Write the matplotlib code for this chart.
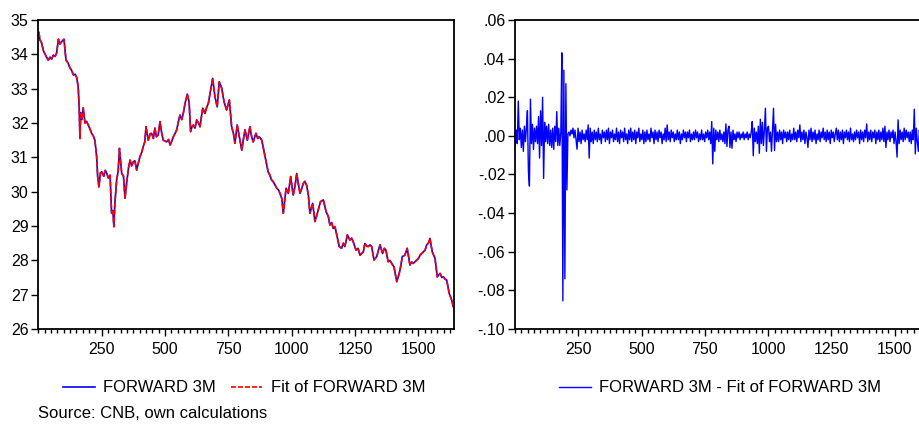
import numpy as np
import matplotlib
matplotlib.use("Agg")
import matplotlib.pyplot as plt
from matplotlib.ticker import MultipleLocator, FuncFormatter

plt.rcParams['font.family'] = ['Liberation Sans', 'DejaVu Sans']

# FORWARD 3M
fwd_obs = [2, 6, 12, 20, 30, 39, 46, 52, 59, 66, 72, 79, 85, 92, 101, 109, 117, 125,
           132, 138, 145, 151, 157, 161, 164, 167, 172, 177, 184, 190, 197, 204, 210,
           217, 223, 230, 234, 239, 245, 250, 258, 264, 270, 276, 283, 289, 294, 298,
           302, 309, 315, 320, 329, 336, 342, 349, 356, 362, 368, 375, 381, 388, 395,
           401, 408, 414, 420, 425, 434, 441, 447, 454, 460, 466, 473, 480, 487, 493,
           507, 514, 520, 527, 533, 540, 546, 553, 559, 566, 572, 579, 588, 595, 601,
           607, 612, 618, 625, 632, 638, 643, 649, 658, 664, 671, 680, 688, 697, 706,
           714, 724, 733, 743, 754, 763, 770, 776, 785, 796, 803, 810, 816, 825, 835,
           842, 848, 859, 866, 872, 882, 895, 907, 914, 920, 927, 934, 941, 948, 954,
           961, 967, 972, 978, 987, 996, 1006, 1013, 1020, 1027, 1033, 1040, 1046, 1052,
           1059, 1066, 1072, 1083, 1092, 1099, 1105, 1114, 1125, 1136, 1145, 1151, 1158,
           1164, 1171, 1178, 1188, 1197, 1204, 1210, 1220, 1230, 1237, 1243, 1254, 1262,
           1270, 1283, 1289, 1296, 1302, 1309, 1316, 1325, 1336, 1343, 1349, 1359, 1366,
           1372, 1381, 1388, 1395, 1404, 1415, 1422, 1428, 1437, 1447, 1456, 1462, 1467,
           1474, 1480, 1494, 1500, 1507, 1520, 1527, 1533, 1540, 1546, 1555, 1566, 1575,
           1586, 1593, 1599, 1606, 1612, 1622, 1632, 1638]
fwd_vals = [34.64, 34.42, 34.35, 34.10, 33.95, 33.83, 33.92, 33.86, 33.98, 33.94, 34.04,
            34.44, 34.30, 34.37, 34.44, 33.83, 33.75, 33.60, 33.52, 33.40, 33.42, 33.33,
            33.06, 32.47, 31.55, 32.30, 32.10, 32.44, 32.00, 32.05, 31.94, 31.82, 31.70,
            31.62, 31.50, 31.02, 30.44, 30.14, 30.55, 30.58, 30.45, 30.62, 30.53, 30.40,
            30.48, 29.37, 29.45, 28.98, 29.66, 30.34, 30.60, 31.26, 30.53, 30.45, 29.81,
            30.29, 30.70, 30.92, 30.75, 30.87, 30.90, 30.63, 30.85, 31.02, 31.15, 31.31,
            31.45, 31.89, 31.50, 31.68, 31.70, 31.55, 31.85, 31.60, 31.65, 32.04, 31.70,
            31.50, 31.45, 31.52, 31.36, 31.48, 31.60, 31.70, 31.80, 32.05, 32.23, 32.10,
            32.28, 32.57, 32.84, 32.62, 31.75, 31.90, 31.94, 31.85, 32.09, 32.00, 31.89,
            32.15, 32.43, 32.28, 32.45, 32.57, 32.96, 33.30, 32.77, 32.47, 33.20, 33.01,
            32.62, 32.38, 32.67, 31.89, 31.70, 31.41, 31.94, 31.50, 31.21, 31.55, 31.80,
            31.50, 31.89, 31.60, 31.45, 31.70, 31.55, 31.60, 31.50, 31.02, 30.58, 30.48,
            30.35, 30.29, 30.20, 30.10, 30.05, 29.95, 29.80, 29.37, 29.70, 30.10, 29.95,
            30.44, 29.90, 30.15, 30.53, 30.20, 29.95, 30.10, 30.24, 30.30, 30.19, 29.90,
            29.37, 29.66, 29.13, 29.30, 29.47, 29.71, 29.76, 29.42, 29.27, 29.03, 29.10,
            28.93, 28.98, 28.74, 28.40, 28.35, 28.50, 28.40, 28.74, 28.59, 28.65, 28.54,
            28.30, 28.35, 28.15, 28.25, 28.49, 28.42, 28.40, 28.45, 28.40, 28.01, 28.11,
            28.30, 28.45, 28.20, 28.35, 28.30, 27.96, 28.00, 27.91, 27.81, 27.38, 27.55,
            27.72, 28.11, 28.15, 28.35, 28.10, 27.86, 27.95, 27.91, 28.01, 28.05, 28.15,
            28.25, 28.30, 28.45, 28.50, 28.64, 28.25, 28.06, 27.52, 27.62, 27.50, 27.52,
            27.45, 27.43, 27.04, 26.84, 26.65]

resid_obs = np.arange(1, 1642, 4)
resid_vals = [
    -0.005, 0.003, -0.004, 0.018, -0.002, 0.004, -0.006, 0.003, -0.008, 0.005,
    -0.003, 0.004, 0.013, -0.0185, -0.026, 0.019, -0.004, 0.006, -0.007, 0.004,
    -0.003, 0.005, -0.004, 0.010, -0.0115, 0.013, -0.005, 0.020, -0.022, 0.007,
    -0.003, 0.005, -0.004, 0.006, -0.005, 0.003, -0.006, 0.004, -0.007, 0.005,
    -0.003, 0.0126, -0.005, 0.004, -0.005, 0.002, 0.043, -0.0854, 0.034, -0.074,
    0.027, -0.028, 0.001, 0.002, 0.000, 0.003, 0.001, 0.004, -0.001, 0.003,
    -0.002, -0.0069, 0.004, -0.003, 0.002, -0.004, 0.003, -0.002, 0.001, -0.003,
    0.003, -0.002, 0.0057, -0.0115, 0.004, -0.003, 0.002, -0.004, 0.003, -0.002,
    0.002, -0.003, 0.004, -0.002, 0.001, -0.004, 0.003, -0.001, 0.002, -0.003,
    0.003, -0.002, 0.004, -0.004, 0.002, -0.001, 0.003, -0.003, 0.001, -0.002,
    0.004, -0.003, 0.002, -0.004, 0.003, -0.001, 0.002, -0.003, 0.004, -0.002,
    0.001, -0.004, 0.003, -0.002, 0.004, -0.003, 0.002, -0.002, 0.003, -0.004,
    0.002, -0.001, 0.004, -0.003, 0.001, -0.002, 0.003, -0.004, 0.002, -0.003,
    0.003, -0.002, 0.001, -0.003, 0.004, -0.001, 0.002, -0.004, 0.003, -0.002,
    0.002, -0.003, 0.003, -0.001, 0.002, -0.004, 0.001, -0.002, 0.004, -0.003,
    0.0057, -0.002, 0.002, -0.003, 0.003, -0.001, 0.002, -0.003, 0.001, -0.002,
    0.003, -0.002, 0.002, -0.004, 0.001, -0.002, 0.003, -0.001, 0.002, -0.003,
    0.002, -0.001, 0.003, -0.003, 0.001, -0.002, 0.002, -0.002, 0.003, -0.001,
    0.002, -0.003, 0.001, -0.002, 0.003, -0.002, 0.001, -0.003, 0.002, -0.001,
    0.003, -0.002, 0.002, -0.004, 0.0074, -0.0145, 0.004, -0.008, 0.003, -0.002,
    0.002, -0.003, 0.003, -0.002, 0.001, -0.003, 0.002, -0.004, 0.0062, -0.0055,
    0.003, 0.005, -0.006, 0.002, -0.0064, 0.003, -0.002, 0.001, -0.003, 0.002,
    -0.001, 0.002, -0.002, 0.001, -0.001, 0.002, -0.002, 0.001, -0.001, 0.002,
    -0.002, 0.001, -0.001, 0.002, 0.0074, -0.0103, 0.004, -0.003, 0.002, -0.004,
    0.005, -0.009, 0.0086, -0.004, 0.007, -0.005, 0.003, 0.0143, -0.008, 0.004,
    0.005, -0.003, 0.002, -0.008, 0.003, 0.0143, -0.0076, 0.006, -0.003, 0.002,
    -0.003, 0.003, -0.002, 0.002, -0.004, 0.003, -0.001, 0.002, -0.003, 0.002,
    -0.002, 0.003, -0.003, 0.001, -0.002, 0.004, -0.002, 0.002, -0.003, 0.003,
    -0.001, 0.0057, -0.003, 0.002, -0.002, 0.003, -0.004, 0.002, -0.001, -0.006,
    0.003, -0.002, 0.004, -0.003, 0.002, -0.002, 0.003, -0.004, 0.001, -0.002,
    0.003, -0.003, 0.002, -0.001, 0.004, -0.002, 0.002, -0.003, 0.003, -0.002,
    0.002, -0.004, 0.003, -0.001, 0.002, -0.003, 0.001, 0.004, -0.002, 0.003,
    -0.003, 0.002, -0.002, 0.003, -0.004, 0.002, -0.001, 0.003, -0.002, 0.002,
    -0.003, 0.004, -0.002, 0.001, -0.003, 0.002, -0.002, 0.003, -0.001, 0.002,
    -0.004, 0.003, -0.002, 0.002, -0.003, 0.003, -0.001, 0.0062, -0.003, 0.002,
    -0.002, 0.003, -0.003, 0.002, -0.001, 0.003, -0.004, 0.002, -0.002, 0.003,
    -0.003, 0.002, -0.002, 0.004, -0.003, 0.005, -0.006, 0.002, -0.002, 0.003,
    -0.003, 0.002, -0.001, 0.003, -0.004, 0.002, -0.003, -0.011, 0.0083, -0.004,
    0.003, -0.002, 0.002, -0.003, 0.004, -0.002, 0.003, -0.001, 0.002, -0.003,
    0.002, -0.004, 0.003, -0.002, 0.0138, -0.0093, 0.004, -0.003, -0.008, 0.003,
    -0.002, 0.003, -0.003, 0.002, -0.004, 0.003, -0.002, 0.004, -0.003, 0.002,
    -0.002]

xticks = [250, 500, 750, 1000, 1250, 1500]
n_obs = 1641

fig = plt.figure(figsize=(9.2, 4.26), dpi=100)
ax1 = fig.add_axes([38.4 / 920, 97 / 426, 415.6 / 920, 309 / 426])
ax2 = fig.add_axes([515 / 920, 97 / 426, 415.5 / 920, 309 / 426])

l1, = ax1.plot(fwd_obs, fwd_vals, color='#0000FF', lw=1.2, label='FORWARD 3M')
l2, = ax1.plot(fwd_obs, fwd_vals, color='#FF0000', lw=1.2, ls=(0, (3, 1.2)),
               label='Fit of FORWARD 3M')
ax1.set_ylim(26, 35)
ax1.yaxis.set_major_locator(MultipleLocator(1))

l3, = ax2.plot(resid_obs, resid_vals, color='#0000FF', lw=1.0,
               label='FORWARD 3M - Fit of FORWARD 3M')
ax2.set_ylim(-0.10, 0.06)
ax2.set_yticks(np.arange(-0.10, 0.061, 0.02))
ax2.yaxis.set_major_formatter(FuncFormatter(
    lambda v, p: ('%.2f' % v).replace('0.', '.') if abs(v) > 1e-9 else '.00'))

for ax in (ax1, ax2):
    ax.set_xlim(0, n_obs)
    ax.set_xticks(xticks)
    ax.xaxis.set_minor_locator(MultipleLocator(25))
    ax.tick_params(axis='both', which='major', direction='out', length=5, width=1,
                   labelsize=11.5, colors='black', pad=2)
    ax.tick_params(axis='x', which='major', pad=4)
    ax.tick_params(axis='x', which='minor', direction='out', length=3, width=1)
    for s in ax.spines.values():
        s.set_linewidth(1.3)
        s.set_color('black')

fig.legend(handles=[l1, l2], loc='center', bbox_to_anchor=(244 / 920, 38 / 426),
           ncol=2, frameon=False, fontsize=12, handlelength=1.9,
           handletextpad=0.5, columnspacing=0.9)
fig.legend(handles=[l3], loc='center', bbox_to_anchor=(720 / 920, 38 / 426),
           frameon=False, fontsize=12, handlelength=1.9, handletextpad=0.5)
fig.text(38 / 920, 12 / 426, 'Source: CNB, own calculations', fontsize=12,
         ha='left', va='center')

fig.savefig('out.png', dpi=100)
